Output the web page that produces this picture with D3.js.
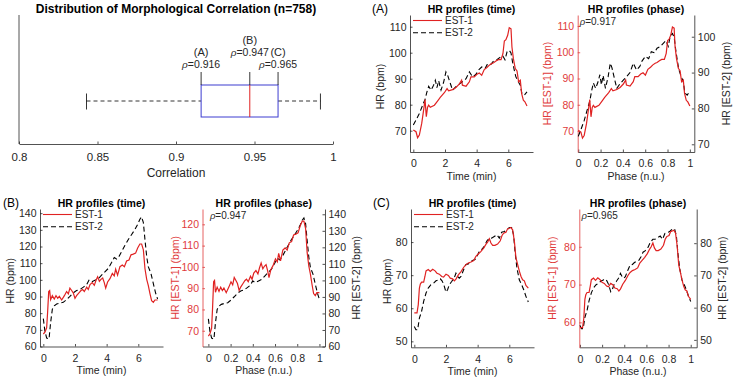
<!DOCTYPE html>
<html>
<head>
<meta charset="utf-8">
<script src="https://cdn.jsdelivr.net/npm/d3@7"></script>
<style>
  body { margin: 0; background: #fff; }
  svg { font-family: "Liberation Sans", Arial, sans-serif; }
</style>
</head>
<body>
<svg id="chart" width="733" height="379"></svg>
<script>
// ---------- data ----------
// boxplot of morphological correlation: lower whisker, q1, median, q3, upper whisker
var boxStats = [0.843, 0.916, 0.947, 0.965, 0.992];
var caseNames = ["(A)", "(B)", "(C)"];
var caseRho = [0.916, 0.947, 0.965];
var corrTicks = [0.8, 0.85, 0.9, 0.95, 1];

var timeTicks = [0, 2, 4, 6];
var phaseTicks = [0, 0.2, 0.4, 0.6, 0.8, 1];
var phaseRho = [0.917, 0.947, 0.965];

// HR profiles, [time (min), HR (bpm)]
var estA1 = [[0,70.3],[0.17,69.6],[0.27,67.3],[0.38,68.3],[0.53,72.8],[0.65,77.9],[0.74,82],[0.82,75.4],[0.9,79],[0.97,79.8],[1.07,79],[1.33,79.8],[1.54,81.5],[1.7,82.8],[1.96,84.6],[2.13,86.2],[2.23,85.3],[2.48,85.8],[2.69,86.6],[2.9,87.9],[3.05,89.4],[3.1,87.5],[3.33,87.1],[3.54,88.8],[3.64,90.7],[3.85,90.7],[4.02,91.7],[4.17,92.2],[4.32,91.3],[4.48,93.5],[4.65,94.3],[4.8,95.2],[4.95,95.8],[5.07,96.1],[5.22,96.8],[5.37,97.3],[5.54,97.3],[5.66,99.6],[5.75,104.5],[5.85,105],[5.96,106.7],[6.06,109.6],[6.17,109.2],[6.23,102.2],[6.32,97.7],[6.44,93.9],[6.55,93],[6.65,88.8],[6.76,89.4],[6.84,84.3],[6.95,81.7],[7.05,81.1],[7.18,79.5]];
var estA2 = [[0,72.2],[0.17,74.1],[0.38,76.6],[0.59,79.8],[0.74,82],[0.86,84.9],[0.97,87.1],[1.12,85.6],[1.28,87.5],[1.39,89.4],[1.49,86.6],[1.6,89.2],[1.75,85.6],[1.92,88.8],[2.06,92.6],[2.17,91.3],[2.27,89.4],[2.48,85.6],[2.69,86.9],[2.9,87.9],[3.1,88.8],[3.33,90],[3.54,92.6],[3.75,90.7],[3.96,91.7],[4.1,93.2],[4.32,94.5],[4.53,93.9],[4.7,95.8],[4.9,95.5],[5.07,96.8],[5.28,97.3],[5.5,98.3],[5.64,98.9],[5.79,97.3],[5.92,100.3],[6.06,100.9],[6.17,99.9],[6.27,96.4],[6.38,93.2],[6.48,90.7],[6.63,88.8],[6.76,87.5],[6.86,84.3],[7.01,83.7],[7.18,84.9]];

var estB1 = [[0,67.5],[0.1,68.6],[0.21,71.2],[0.27,80.4],[0.34,93],[0.4,93.6],[0.46,88.1],[0.57,90.5],[0.69,88.5],[0.8,90.5],[0.91,88.9],[1.01,90.1],[1.16,87.9],[1.33,90.5],[1.47,93],[1.58,91.6],[1.68,95],[1.79,93.6],[1.89,92.2],[2,88.9],[2.1,90.5],[2.25,92.2],[2.38,93.6],[2.48,94.2],[2.59,93],[2.74,95.6],[2.84,94.2],[2.95,97.1],[3.09,98.3],[3.22,96.7],[3.33,99.7],[3.43,101.8],[3.54,99.1],[3.64,100.3],[3.75,101.1],[3.85,98.3],[3.94,95],[4.06,98.7],[4.21,100.7],[4.36,103.8],[4.48,102.4],[4.57,106.4],[4.69,102.8],[4.84,107.9],[4.99,108.9],[5.12,107.9],[5.26,111.3],[5.41,111.9],[5.54,115],[5.68,115.4],[5.83,116],[5.96,119.1],[6.1,121.5],[6.21,121.5],[6.32,118],[6.42,106.8],[6.53,100.3],[6.63,96.7],[6.74,91.6],[6.84,87.5],[6.95,86.5],[7.05,87.9],[7.22,87.9]];
var estB2 = [[0,76.7],[0.1,69.2],[0.21,65.1],[0.36,64.5],[0.46,74.3],[0.57,82.4],[0.69,84.4],[0.84,85.5],[1.05,86.1],[1.26,86.5],[1.47,88.1],[1.68,90.1],[1.89,92.2],[2.1,93.6],[2.32,94.2],[2.53,95.6],[2.74,97.1],[2.88,99.7],[3.05,98.7],[3.26,99.7],[3.47,100.7],[3.68,102.8],[3.89,104.8],[4.1,106.8],[4.32,110.5],[4.48,113.4],[4.63,112.5],[4.78,114],[4.95,117],[5.16,120.7],[5.37,124.2],[5.58,127.2],[5.79,130.3],[5.96,133.3],[6.1,136.4],[6.21,137.8],[6.32,134.3],[6.42,124.2],[6.53,114],[6.63,107.9],[6.8,103.8],[6.95,97.7],[7.09,92.2],[7.22,88.5]];

var estC1 = [[0,58.6],[0.17,58.6],[0.25,61.1],[0.32,66.1],[0.38,67.3],[0.46,67.9],[0.59,67.9],[0.67,69.6],[0.74,71.3],[0.88,71.7],[1.01,71.1],[1.16,71.8],[1.31,71.3],[1.43,70.6],[1.58,70.3],[1.73,69.6],[1.85,69.4],[2,70.3],[2.15,69.9],[2.27,69.1],[2.42,68.9],[2.53,68.3],[2.63,68.8],[2.78,70.1],[2.95,71.1],[3.12,72.4],[3.26,73.2],[3.41,73.7],[3.58,74],[3.75,74.4],[3.89,75.7],[4.04,76.4],[4.21,77.2],[4.38,78.2],[4.53,79.4],[4.63,80],[4.74,81],[4.84,79.7],[4.95,79],[5.09,79],[5.26,79.4],[5.43,80.4],[5.54,82],[5.64,82.7],[5.79,83],[5.89,84],[6,84.2],[6.1,84.4],[6.21,83.7],[6.32,80.2],[6.42,75.2],[6.53,73.2],[6.63,71.3],[6.74,69.6],[6.84,68.6],[6.95,68.3],[7.05,66.9],[7.2,66.1]];
var estC2 = [[0,54.5],[0.1,53.5],[0.21,53.5],[0.32,57],[0.46,59.1],[0.59,62.1],[0.74,64.6],[0.88,66.1],[1.05,67.1],[1.22,67.6],[1.37,68.3],[1.52,68.6],[1.64,68.9],[1.75,68.3],[1.85,67.3],[2,64.9],[2.1,65.6],[2.21,67.1],[2.36,68.1],[2.53,69.3],[2.63,70.6],[2.74,69.6],[2.84,69.1],[2.95,69.6],[3.12,71.7],[3.26,73.2],[3.41,73.4],[3.54,74],[3.68,74.4],[3.83,74.7],[3.96,75.7],[4.1,77.2],[4.25,77.7],[4.42,78.7],[4.59,80.4],[4.74,81.2],[4.88,81.2],[5.05,81.7],[5.22,82.2],[5.37,81.2],[5.52,83],[5.68,83.2],[5.85,83.7],[6,84.4],[6.15,84.4],[6.27,82.2],[6.36,77.2],[6.48,72.2],[6.63,68.6],[6.78,67.1],[6.91,65.6],[7.05,63.6],[7.2,61.9]];

var hrTicksA = [70, 80, 90, 100, 110];
var hrTicksA2 = [70, 80, 90, 100];
var hrTicksB = [60, 70, 80, 90, 100, 110, 120, 130, 140];
var hrTicksB1 = [70, 80, 90, 100, 110, 120];
var hrTicksC = [50, 60, 70, 80];
var hrTicksC1 = [60, 70, 80];

// ---------- layout ----------
var INK = "#262626", RED = "#e02222", RED_AX = "#e03a3a", BLUE = "#3c3cd0";
var TICK = 2.5, DASH = "5,3";

var panels = [
  { name: "(A)", nameX: 372, top: 15, bottom: 152,
    est1: estA1, est2: estA2, rho: phaseRho[0],
    t: { x0: 410, x1: 533, hr: [61.8, 114.5], ticks: hrTicksA, labX: 380 },
    p: { x0: 577.7, x1: 694.3, xd: [-0.005, 1.04], red: [62, 114.2], black: [67.85, 106.06],
         redTicks: hrTicksA, blackTicks: hrTicksA2, redLabX: 547, blackLabX: 726 } },
  { name: "(B)", nameX: 3, top: 209, bottom: 346.5,
    est1: estB1, est2: estB2, rho: phaseRho[1],
    t: { x0: 40, x1: 163, hr: [60, 142.5], ticks: hrTicksB, labX: 10 },
    p: { x0: 202.5, x1: 325, xd: [-0.053, 1.05], red: [62.6, 127.2], black: [60, 143.2],
         redTicks: hrTicksB1, blackTicks: hrTicksB, redLabX: 175, blackLabX: 356 } },
  { name: "(C)", nameX: 373, top: 209, bottom: 347.3,
    est1: estC1, est2: estC2, rho: phaseRho[2],
    t: { x0: 411, x1: 534, hr: [48.2, 90], ticks: hrTicksC, labX: 387 },
    p: { x0: 579.3, x1: 696.7, xd: [-0.006, 1.054], red: [53.4, 90], black: [47.7, 90.6],
         redTicks: hrTicksC1, blackTicks: hrTicksC, redLabX: 552, blackLabX: 722 } }
];

var svg = d3.select("#chart");

// style an axis group the matlab way
function styleAxis(g, color, size) {
  g.attr("font-family", null).attr("font-size", size);
  g.select(".domain").attr("stroke", color).attr("stroke-width", 0.8);
  g.selectAll(".tick line").attr("stroke", color).attr("stroke-width", 0.8);
  g.selectAll(".tick text").attr("fill", color);
}

function rhoText(sel, value) {
  sel.append("tspan").attr("font-style", "italic").attr("font-size", "0.95em").text("ρ");
  sel.append("tspan").text("=" + value.toFixed(3));
}

// ---------- boxplot ----------
function drawBoxplot() {
  var x = d3.scaleLinear().domain([0.8, 1]).range([19, 333]);
  var g = svg.append("g");

  g.append("text").attr("x", 176).attr("y", 12.5).attr("text-anchor", "middle")
    .attr("font-size", 12).attr("font-weight", "bold").attr("fill", "#000")
    .text("Distribution of Morphological Correlation (n=758)");

  g.append("g").attr("transform", "translate(0,144)")
    .call(d3.axisBottom(x).tickValues(corrTicks).tickFormat(d3.format("")).tickSizeInner(-TICK).tickSizeOuter(0).tickPadding(9))
    .call(styleAxis, INK, 11.5);
  g.append("line").attr("x1", 19).attr("x2", 19).attr("y1", 15).attr("y2", 144)
    .attr("stroke", INK).attr("stroke-width", 0.8);

  g.append("text").attr("x", 176).attr("y", 176.5).attr("text-anchor", "middle")
    .attr("font-size", 12).attr("fill", INK).text("Correlation");

  var yMid = 101;
  // whiskers
  g.selectAll("line.whisker")
    .data([[boxStats[0], boxStats[1]], [boxStats[3], boxStats[4]]])
    .enter().append("line").attr("class", "whisker")
    .attr("x1", function(d) { return x(d[0]); })
    .attr("x2", function(d) { return x(d[1]); })
    .attr("y1", yMid).attr("y2", yMid)
    .attr("stroke", "#000").attr("stroke-width", 0.8).attr("stroke-dasharray", "4,3");
  g.selectAll("line.cap")
    .data([boxStats[0], boxStats[4]])
    .enter().append("line").attr("class", "cap")
    .attr("x1", function(d) { return x(d); }).attr("x2", function(d) { return x(d); })
    .attr("y1", 93.5).attr("y2", 109.5)
    .attr("stroke", "#000").attr("stroke-width", 0.8);

  g.append("rect").attr("x", x(boxStats[1])).attr("y", 85)
    .attr("width", x(boxStats[3]) - x(boxStats[1])).attr("height", 32)
    .attr("fill", "none").attr("stroke", BLUE).attr("stroke-width", 1);
  g.append("line").attr("x1", x(boxStats[2])).attr("x2", x(boxStats[2]))
    .attr("y1", 85).attr("y2", 117).attr("stroke", RED).attr("stroke-width", 1);

  // marked cases
  var rows = [1, 0, 1];
  caseRho.forEach(function(r, i) {
    var cx = x(r);
    g.append("line").attr("x1", cx).attr("x2", cx).attr("y1", 72).attr("y2", 85)
      .attr("stroke", "#000").attr("stroke-width", 0.8);
    var yName = 43.5 + rows[i] * 12;
    g.append("text").attr("x", cx).attr("y", yName).attr("text-anchor", "middle")
      .attr("font-size", 11).attr("fill", INK).text(caseNames[i]);
    g.append("text").attr("x", cx).attr("y", yName + 12).attr("text-anchor", "middle")
      .attr("font-size", 10.5).attr("fill", INK).call(rhoText, r);
  });
}

// ---------- one pair of HR panels ----------
function drawPanel(pn) {
  var g = svg.append("g");
  var top = pn.top, bottom = pn.bottom;

  g.append("text").attr("x", pn.nameX).attr("y", top - 2).attr("font-size", 12)
    .attr("fill", "#000").text(pn.name);

  // --- time panel ---
  var xt = d3.scaleLinear().domain([-0.21, 7.56]).range([pn.t.x0, pn.t.x1]);
  var yt = d3.scaleLinear().domain(pn.t.hr).range([bottom, top]);
  var tc = (pn.t.x0 + pn.t.x1) / 2;

  g.append("text").attr("x", tc).attr("y", top - 2).attr("text-anchor", "middle")
    .attr("font-size", 10.5).attr("font-weight", "bold").attr("fill", "#000")
    .text("HR profiles (time)");

  g.append("g").attr("transform", "translate(0," + bottom + ")")
    .call(d3.axisBottom(xt).tickValues(timeTicks).tickSizeInner(-TICK).tickSizeOuter(0).tickPadding(8))
    .call(styleAxis, INK, 10.5);
  g.append("g").attr("transform", "translate(" + pn.t.x0 + ",0)")
    .call(d3.axisLeft(yt).tickValues(pn.t.ticks).tickSizeInner(-TICK).tickSizeOuter(0).tickPadding(3.5))
    .call(styleAxis, INK, 10.5);

  g.append("text").attr("x", tc).attr("y", bottom + 27.5).attr("text-anchor", "middle")
    .attr("font-size", 10.5).attr("fill", INK).text("Time (min)");
  g.append("text").attr("transform", "translate(" + pn.t.labX + "," + ((top + bottom) / 2 + 3) + ") rotate(-90)")
    .attr("text-anchor", "middle").attr("dy", "0.35em")
    .attr("font-size", 10.5).attr("fill", INK).text("HR (bpm)");

  var lineT = d3.line().x(function(d) { return xt(d[0]); }).y(function(d) { return yt(d[1]); });
  g.append("path").datum(pn.est2).attr("d", lineT).attr("fill", "none")
    .attr("stroke", "#000").attr("stroke-width", 1.1).attr("stroke-dasharray", DASH);
  g.append("path").datum(pn.est1).attr("d", lineT).attr("fill", "none")
    .attr("stroke", RED).attr("stroke-width", 1.2);

  // legend
  var lx = pn.t.x0 + 3;
  [["EST-1", RED, null], ["EST-2", "#000", DASH]].forEach(function(item, i) {
    var ly = top + 5.5 + i * 12.3;
    g.append("line").attr("x1", lx).attr("x2", lx + 29).attr("y1", ly).attr("y2", ly)
      .attr("stroke", item[1]).attr("stroke-width", 1.1).attr("stroke-dasharray", item[2]);
    g.append("text").attr("x", lx + 32).attr("y", ly + 3.6).attr("font-size", 10)
      .attr("fill", INK).text(item[0]);
  });

  // --- phase panel ---
  var xp = d3.scaleLinear().domain(pn.p.xd).range([pn.p.x0, pn.p.x1]);
  var yr = d3.scaleLinear().domain(pn.p.red).range([bottom, top]);
  var yb = d3.scaleLinear().domain(pn.p.black).range([bottom, top]);
  var pc = (pn.p.x0 + pn.p.x1) / 2;

  g.append("text").attr("x", pc).attr("y", top - 2).attr("text-anchor", "middle")
    .attr("font-size", 10.5).attr("font-weight", "bold").attr("fill", "#000")
    .text("HR profiles (phase)");

  g.append("g").attr("transform", "translate(0," + bottom + ")")
    .call(d3.axisBottom(xp).tickValues(phaseTicks).tickFormat(d3.format("")).tickSizeInner(-TICK).tickSizeOuter(0).tickPadding(8))
    .call(styleAxis, INK, 10.5);
  g.append("g").attr("transform", "translate(" + pn.p.x0 + ",0)")
    .call(d3.axisLeft(yr).tickValues(pn.p.redTicks).tickSizeInner(-TICK).tickSizeOuter(0).tickPadding(3.5))
    .call(styleAxis, RED_AX, 10.5);
  g.append("g").attr("transform", "translate(" + pn.p.x1 + ",0)")
    .call(d3.axisRight(yb).tickValues(pn.p.blackTicks).tickSizeInner(-TICK).tickSizeOuter(0).tickPadding(3.5))
    .call(styleAxis, INK, 10.5);

  g.append("text").attr("x", pc).attr("y", bottom + 27.5).attr("text-anchor", "middle")
    .attr("font-size", 10.5).attr("fill", INK).text("Phase (n.u.)");
  g.append("text").attr("transform", "translate(" + pn.p.redLabX + "," + (top + bottom) / 2 + ") rotate(-90)")
    .attr("text-anchor", "middle").attr("dy", "0.35em")
    .attr("font-size", 10.5).attr("fill", RED_AX).text("HR [EST-1] (bpm)");
  g.append("text").attr("transform", "translate(" + pn.p.blackLabX + "," + (top + bottom) / 2 + ") rotate(-90)")
    .attr("text-anchor", "middle").attr("dy", "0.35em")
    .attr("font-size", 10.5).attr("fill", INK).text("HR [EST-2] (bpm)");

  // phase = time normalised by the profile duration
  var tEnd1 = pn.est1[pn.est1.length - 1][0];
  var tEnd2 = pn.est2[pn.est2.length - 1][0];
  var line2 = d3.line().x(function(d) { return xp(d[0] / tEnd2); }).y(function(d) { return yb(d[1]); });
  var line1 = d3.line().x(function(d) { return xp(d[0] / tEnd1); }).y(function(d) { return yr(d[1]); });
  g.append("path").datum(pn.est2).attr("d", line2).attr("fill", "none")
    .attr("stroke", "#000").attr("stroke-width", 1.1).attr("stroke-dasharray", DASH);
  g.append("path").datum(pn.est1).attr("d", line1).attr("fill", "none")
    .attr("stroke", RED).attr("stroke-width", 1.2);

  g.append("text").attr("x", xp(0) + 1.5).attr("y", top + 10).attr("font-size", 10)
    .attr("fill", INK).call(rhoText, pn.rho);
}

drawBoxplot();
panels.forEach(drawPanel);
</script>
</body>
</html>
